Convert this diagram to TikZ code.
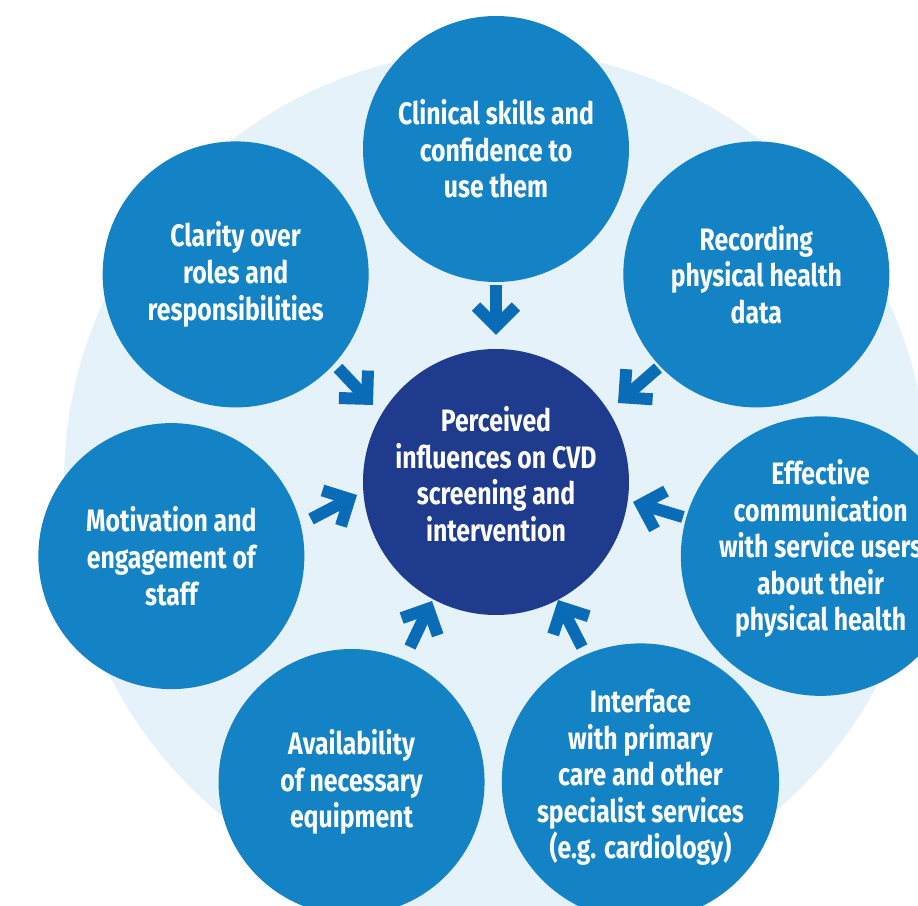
\documentclass[tikz,border=0pt]{standalone}
\usepackage{fontspec}
\setmainfont{Fira Sans}[FakeStretch=0.80]
\usetikzlibrary{arrows.meta}

\definecolor{ringblue}{RGB}{230,242,249}
\definecolor{topicblue}{RGB}{19,131,198}
\definecolor{coreblue}{RGB}{31,59,141}
\definecolor{pointblue}{RGB}{10,107,182}

\tikzset{
    topic/.style={circle, minimum size=266pt, inner sep=0pt, fill=topicblue,
        text=white, align=center, font=\bfseries\fontsize{31}{36.6}\selectfont},
    core/.style={topic, fill=coreblue},
    push/.style={pointblue, line width=12pt,
        -{Straight Barb[length=20pt, width=40pt]}}
}

\begin{document}
\begin{tikzpicture}[x=1pt, y=1pt]
    \useasboundingbox (-496,-423) rectangle (422,482);
    \clip (-496,-423) rectangle (422,482);

    % light ring behind everything
    \fill[ringblue] (0,0) circle (432);

    % the centre and the seven influences round it
    \node[core, text depth=16pt] (cvd) at (0,0) {Perceived\\influences on CVD\\screening and\\intervention};
    \node[topic] (skills) at (90:333) {Clinical skills and\\confidence to\\use them};
    \node[topic] (records) at (38.57:333) {Recording\\physical health\\data};
    \node[topic, text depth=22pt] (talk) at (-12.86:333) {Effective\\communication\\with service users\\about their\\physical health};
    \node[topic, text depth=16pt] (links) at (-64.29:333) {Interface\\with primary\\care and other\\specialist services\\(e.g. cardiology)};
    \node[topic] (kit) at (-115.71:333) {Availability\\of necessary\\equipment};
    \node[topic] (staff) at (-167.14:333) {Motivation and\\engagement of\\staff};
    \node[topic] (roles) at (141.43:333) {Clarity over\\roles and\\responsibilities};

    % arrows, placed by hand between the circles
    \coordinate (skills-out) at (0,197);      \coordinate (skills-in) at (0,147);
    \coordinate (records-out) at (162,114);   \coordinate (records-in) at (122,79);
    \coordinate (talk-out) at (187,-35);      \coordinate (talk-in) at (137,-20);
    \coordinate (links-out) at (86,-165);     \coordinate (links-in) at (62,-118);
    \coordinate (kit-out) at (-86,-165);      \coordinate (kit-in) at (-64,-119);
    \coordinate (staff-out) at (-185,-37);    \coordinate (staff-in) at (-139,-13);
    \coordinate (roles-out) at (-158,114);    \coordinate (roles-in) at (-123,77);

    \foreach \t in {skills,records,talk,links,kit,staff,roles}
        \draw[push] (\t-out) -- (\t-in);
\end{tikzpicture}
\end{document}
